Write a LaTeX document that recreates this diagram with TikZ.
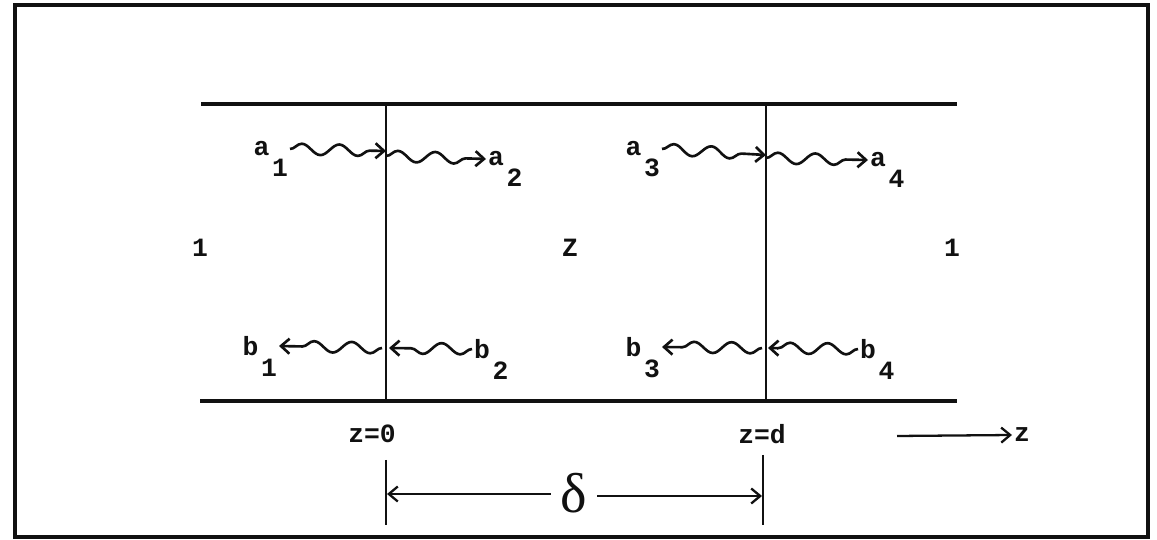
\documentclass[tikz,border=0pt]{standalone}
\usepackage{fontspec}
\setmonofont{Liberation Mono}
\newfontfamily\greekfont{Liberation Serif}
\usepackage{tikz}
\usetikzlibrary{arrows.meta,decorations.pathmorphing}
\definecolor{ink}{HTML}{111111}
\tikzset{
  frame/.style={draw=ink,line width=2.2pt},
  guide/.style={draw=ink,line width=1.9pt},
  wall/.style={draw=ink,line width=1.3pt},
  lbl/.style={inner sep=1pt,font=\fontsize{15}{17}\selectfont\ttfamily\bfseries,text=ink},
  wavearr/.style={-{Straight Barb[length=1.7mm,width=3mm]},line width=1.5pt,draw=ink,
                  decorate,decoration={snake,segment length=7.5mm,amplitude=1.1mm,post length=1.5mm}},
  flowarr/.style={-{Straight Barb[length=1.8mm,width=3mm]},line width=1.3pt,draw=ink}
}
\newcommand{\lo}[1]{\kern1.5pt\raisebox{-1.5ex}[0pt][0pt]{#1}}

\begin{document}
\begin{tikzpicture}[x=0.02cm,y=-0.02cm]
  \useasboundingbox (0,0) rectangle (1157,540);
  \draw[frame] (15,5) rectangle (1148,537);

  % guide and the two interfaces
  \coordinate (tl) at (201,104);  \coordinate (tr) at (957,104);
  \coordinate (bl) at (200,401);  \coordinate (br) at (957,401);
  \coordinate (i1t) at (386,104); \coordinate (i1b) at (386,401);
  \coordinate (i2t) at (766,104); \coordinate (i2b) at (766,401);
  \draw[guide] (tl) -- (tr);
  \draw[guide] (bl) -- (br);
  \draw[wall] (i1t) -- (i1b);
  \draw[wall] (i2t) -- (i2b);

  % region labels
  \node[lbl] (r1) at (200,248) {1};
  \node[lbl] (rz) at (570,248) {Z};
  \node[lbl] (r3) at (952,248) {1};

  % forward waves
  \node[lbl,anchor=east] (a1) at (290,149) {a\lo{1}};
  \node[lbl,anchor=west] (a2) at (486,159) {a\lo{2}};
  \node[lbl,anchor=east] (a3) at (662,149) {a\lo{3}};
  \node[lbl,anchor=west] (a4) at (868,160) {a\lo{4}};
  \coordinate (p1) at (386,151); \coordinate (q1) at (386,156);
  \coordinate (p2) at (766,155); \coordinate (q2) at (766,158);
  \draw[wavearr] (a1.east) -- (p1);
  \draw[wavearr] (q1) -- (a2.west);
  \draw[wavearr] (a3.east) -- (p2);
  \draw[wavearr] (q2) -- (a4.west);

  % backward waves
  \node[lbl,anchor=east] (b1) at (279,346) {b\lo{1}};
  \node[lbl,anchor=west] (b2) at (472,349) {b\lo{2}};
  \node[lbl,anchor=east] (b3) at (662,347) {b\lo{3}};
  \node[lbl,anchor=west] (b4) at (858,349) {b\lo{4}};
  \coordinate (s1) at (382,348); \coordinate (u1) at (389,348);
  \coordinate (s2) at (762,348); \coordinate (u2) at (768,348);
  \draw[wavearr] (s1) -- (b1.east);
  \draw[wavearr] (b2.west) -- (u1);
  \draw[wavearr] (s2) -- (b3.east);
  \draw[wavearr] (b4.west) -- (u2);

  % positions and axis
  \node[lbl] (z0) at (372,434) {z=0};
  \node[lbl] (zd) at (762,434) {z=d};
  \coordinate (zs) at (897,436);
  \node[lbl,anchor=west] (zax) at (1012,435) {z};
  \draw[flowarr] (zs) -- (zax.west);

  % thickness
  \coordinate (k1t) at (386,460); \coordinate (k1b) at (386,525);
  \coordinate (k2t) at (763,455); \coordinate (k2b) at (763,525);
  \draw[wall] (k1t) -- (k1b);
  \draw[wall] (k2t) -- (k2b);
  \node[lbl,font=\fontsize{32}{34}\selectfont\greekfont] (dl) at (574,493) {δ};
  \coordinate (d1) at (387,494); \coordinate (d2) at (762,496);
  \draw[flowarr] (dl.west) ++(-8,1) -- (d1);
  \draw[flowarr] (dl.east) ++(8,3) -- (d2);
\end{tikzpicture}
\end{document}
